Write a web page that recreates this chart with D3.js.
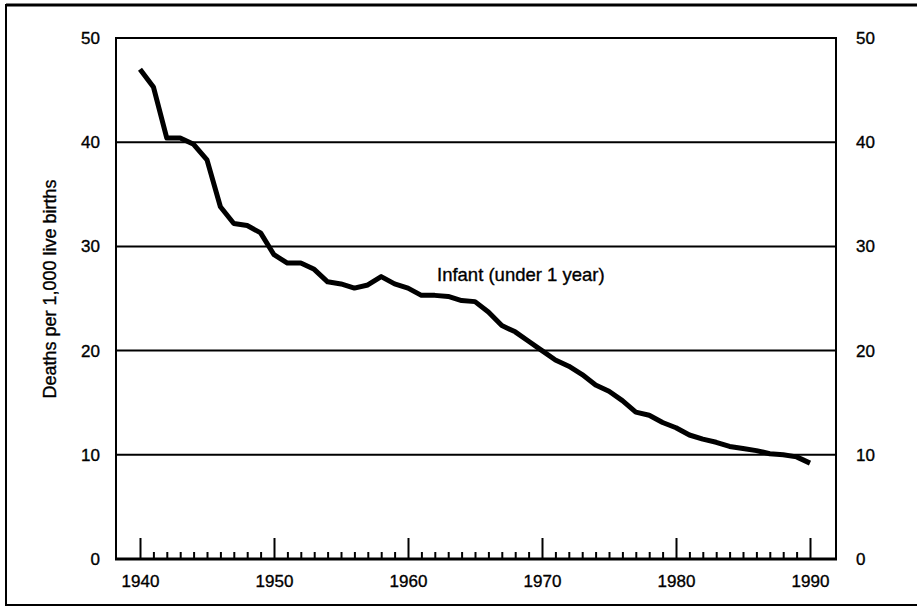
<!DOCTYPE html>
<html>
<head>
<meta charset="utf-8">
<script src="https://cdn.jsdelivr.net/npm/d3@7"></script>
<style>
  html, body { margin: 0; padding: 0; background: #fff; }
  svg { display: block; }
  text { font-family: "Liberation Sans", Arial, Helvetica, sans-serif; fill: #000; stroke: #000; stroke-width: 0.35px; }
</style>
</head>
<body>
<svg id="chart" width="917" height="608"></svg>
<script>
// ---- data ----
const years = [1940,1941,1942,1943,1944,1945,1946,1947,1948,1949,
               1950,1951,1952,1953,1954,1955,1956,1957,1958,1959,
               1960,1961,1962,1963,1964,1965,1966,1967,1968,1969,
               1970,1971,1972,1973,1974,1975,1976,1977,1978,1979,
               1980,1981,1982,1983,1984,1985,1986,1987,1988,1989,1990];
const infantRate = [47.0,45.3,40.4,40.4,39.8,38.3,33.8,32.2,32.0,31.3,
                    29.2,28.4,28.4,27.8,26.6,26.4,26.0,26.3,27.1,26.4,
                    26.0,25.3,25.3,25.2,24.8,24.7,23.7,22.4,21.8,20.9,
                    20.0,19.1,18.5,17.7,16.7,16.1,15.2,14.1,13.8,13.1,
                    12.6,11.9,11.5,11.2,10.8,10.6,10.4,10.1,10.0,9.8,9.2];
const yTicks = [0,10,20,30,40,50];
const xMajorTicks = [1940,1950,1960,1970,1980,1990];
const seriesLabel = "Infant (under 1 year)";
const yTitle = "Deaths per 1,000 live births";

// ---- layout ----
const svg = d3.select("#chart");
const plot = { left: 116, right: 836, top: 38, bottom: 559 };

const x = d3.scaleLinear().domain([1940, 1990]).range([140, 810]);
const y = d3.scaleLinear().domain([0, 50]).range([plot.bottom, plot.top]);

// outer frame (right edge runs off the page)
svg.append("rect")
  .attr("x", 6).attr("y", 5).attr("width", 930).attr("height", 600)
  .attr("fill", "none").attr("stroke", "#000").attr("stroke-width", 2);
svg.append("line").attr("x1", 6).attr("x2", 917).attr("y1", 5).attr("y2", 5)
  .attr("stroke", "#000").attr("stroke-width", 3);

// gridlines (10..50)
svg.append("g").selectAll("line")
  .data(yTicks.filter(d => d > 0))
  .join("line")
  .attr("x1", plot.left).attr("x2", plot.right)
  .attr("y1", d => y(d)).attr("y2", d => y(d))
  .attr("stroke", "#000").attr("stroke-width", 2);

// left & right axis lines
svg.append("line").attr("x1", plot.left).attr("x2", plot.left)
  .attr("y1", plot.top - 1).attr("y2", plot.bottom + 1)
  .attr("stroke", "#000").attr("stroke-width", 2);
svg.append("line").attr("x1", plot.right).attr("x2", plot.right)
  .attr("y1", plot.top - 1).attr("y2", plot.bottom + 1)
  .attr("stroke", "#000").attr("stroke-width", 2);

// left y axis labels
const yLeft = d3.axisLeft(y).tickValues(yTicks).tickSize(0).tickPadding(16).tickFormat(d3.format("d"));
const gL = svg.append("g").attr("transform", `translate(${plot.left},0)`).call(yLeft);
gL.select(".domain").remove();
gL.selectAll("text").style("font-size", "17px").style("font-family", "Liberation Sans, Arial, sans-serif");

// right y axis labels
const yRight = d3.axisRight(y).tickValues(yTicks).tickSize(0).tickPadding(20).tickFormat(d3.format("d"));
const gR = svg.append("g").attr("transform", `translate(${plot.right},0)`).call(yRight);
gR.select(".domain").remove();
gR.selectAll("text").style("font-size", "17px").style("font-family", "Liberation Sans, Arial, sans-serif");

// bottom axis: minor ticks (every year) pointing up, major ticks at decades
const minorYears = years.filter(d => !xMajorTicks.includes(d));
const xMinor = d3.axisBottom(x).tickValues(minorYears).tickSize(-7).tickFormat("");
const gMinor = svg.append("g").attr("transform", `translate(0,${plot.bottom})`).call(xMinor);
gMinor.select(".domain").remove();
gMinor.selectAll("line").attr("stroke", "#000").attr("stroke-width", 2);

const xMajor = d3.axisBottom(x).tickValues(xMajorTicks).tickSize(-21).tickPadding(16).tickFormat(d3.format("d"));
const gMajor = svg.append("g").attr("transform", `translate(0,${plot.bottom})`).call(xMajor);
gMajor.select(".domain").remove();
gMajor.selectAll("line").attr("stroke", "#000").attr("stroke-width", 2);
gMajor.selectAll("text").style("font-size", "17px").style("font-family", "Liberation Sans, Arial, sans-serif");

// bottom axis baseline
svg.append("line").attr("x1", plot.left - 1).attr("x2", plot.right + 1)
  .attr("y1", plot.bottom).attr("y2", plot.bottom)
  .attr("stroke", "#000").attr("stroke-width", 3);

// top border of plot
svg.append("line").attr("x1", plot.left - 1).attr("x2", plot.right + 1)
  .attr("y1", plot.top).attr("y2", plot.top)
  .attr("stroke", "#000").attr("stroke-width", 2);

// data line
const line = d3.line().x((d, i) => x(years[i])).y(d => y(d));
svg.append("path")
  .datum(infantRate)
  .attr("d", line)
  .attr("fill", "none")
  .attr("stroke", "#000")
  .attr("stroke-width", 5)
  .attr("stroke-linejoin", "round");

// series label
svg.append("text")
  .attr("x", 437).attr("y", 281)
  .style("font-size", "18.5px")
  .text(seriesLabel);

// y axis title
svg.append("text")
  .attr("transform", "translate(56,289) rotate(-90)")
  .attr("text-anchor", "middle")
  .style("font-size", "18px")
  .text(yTitle);
</script>
</body>
</html>
